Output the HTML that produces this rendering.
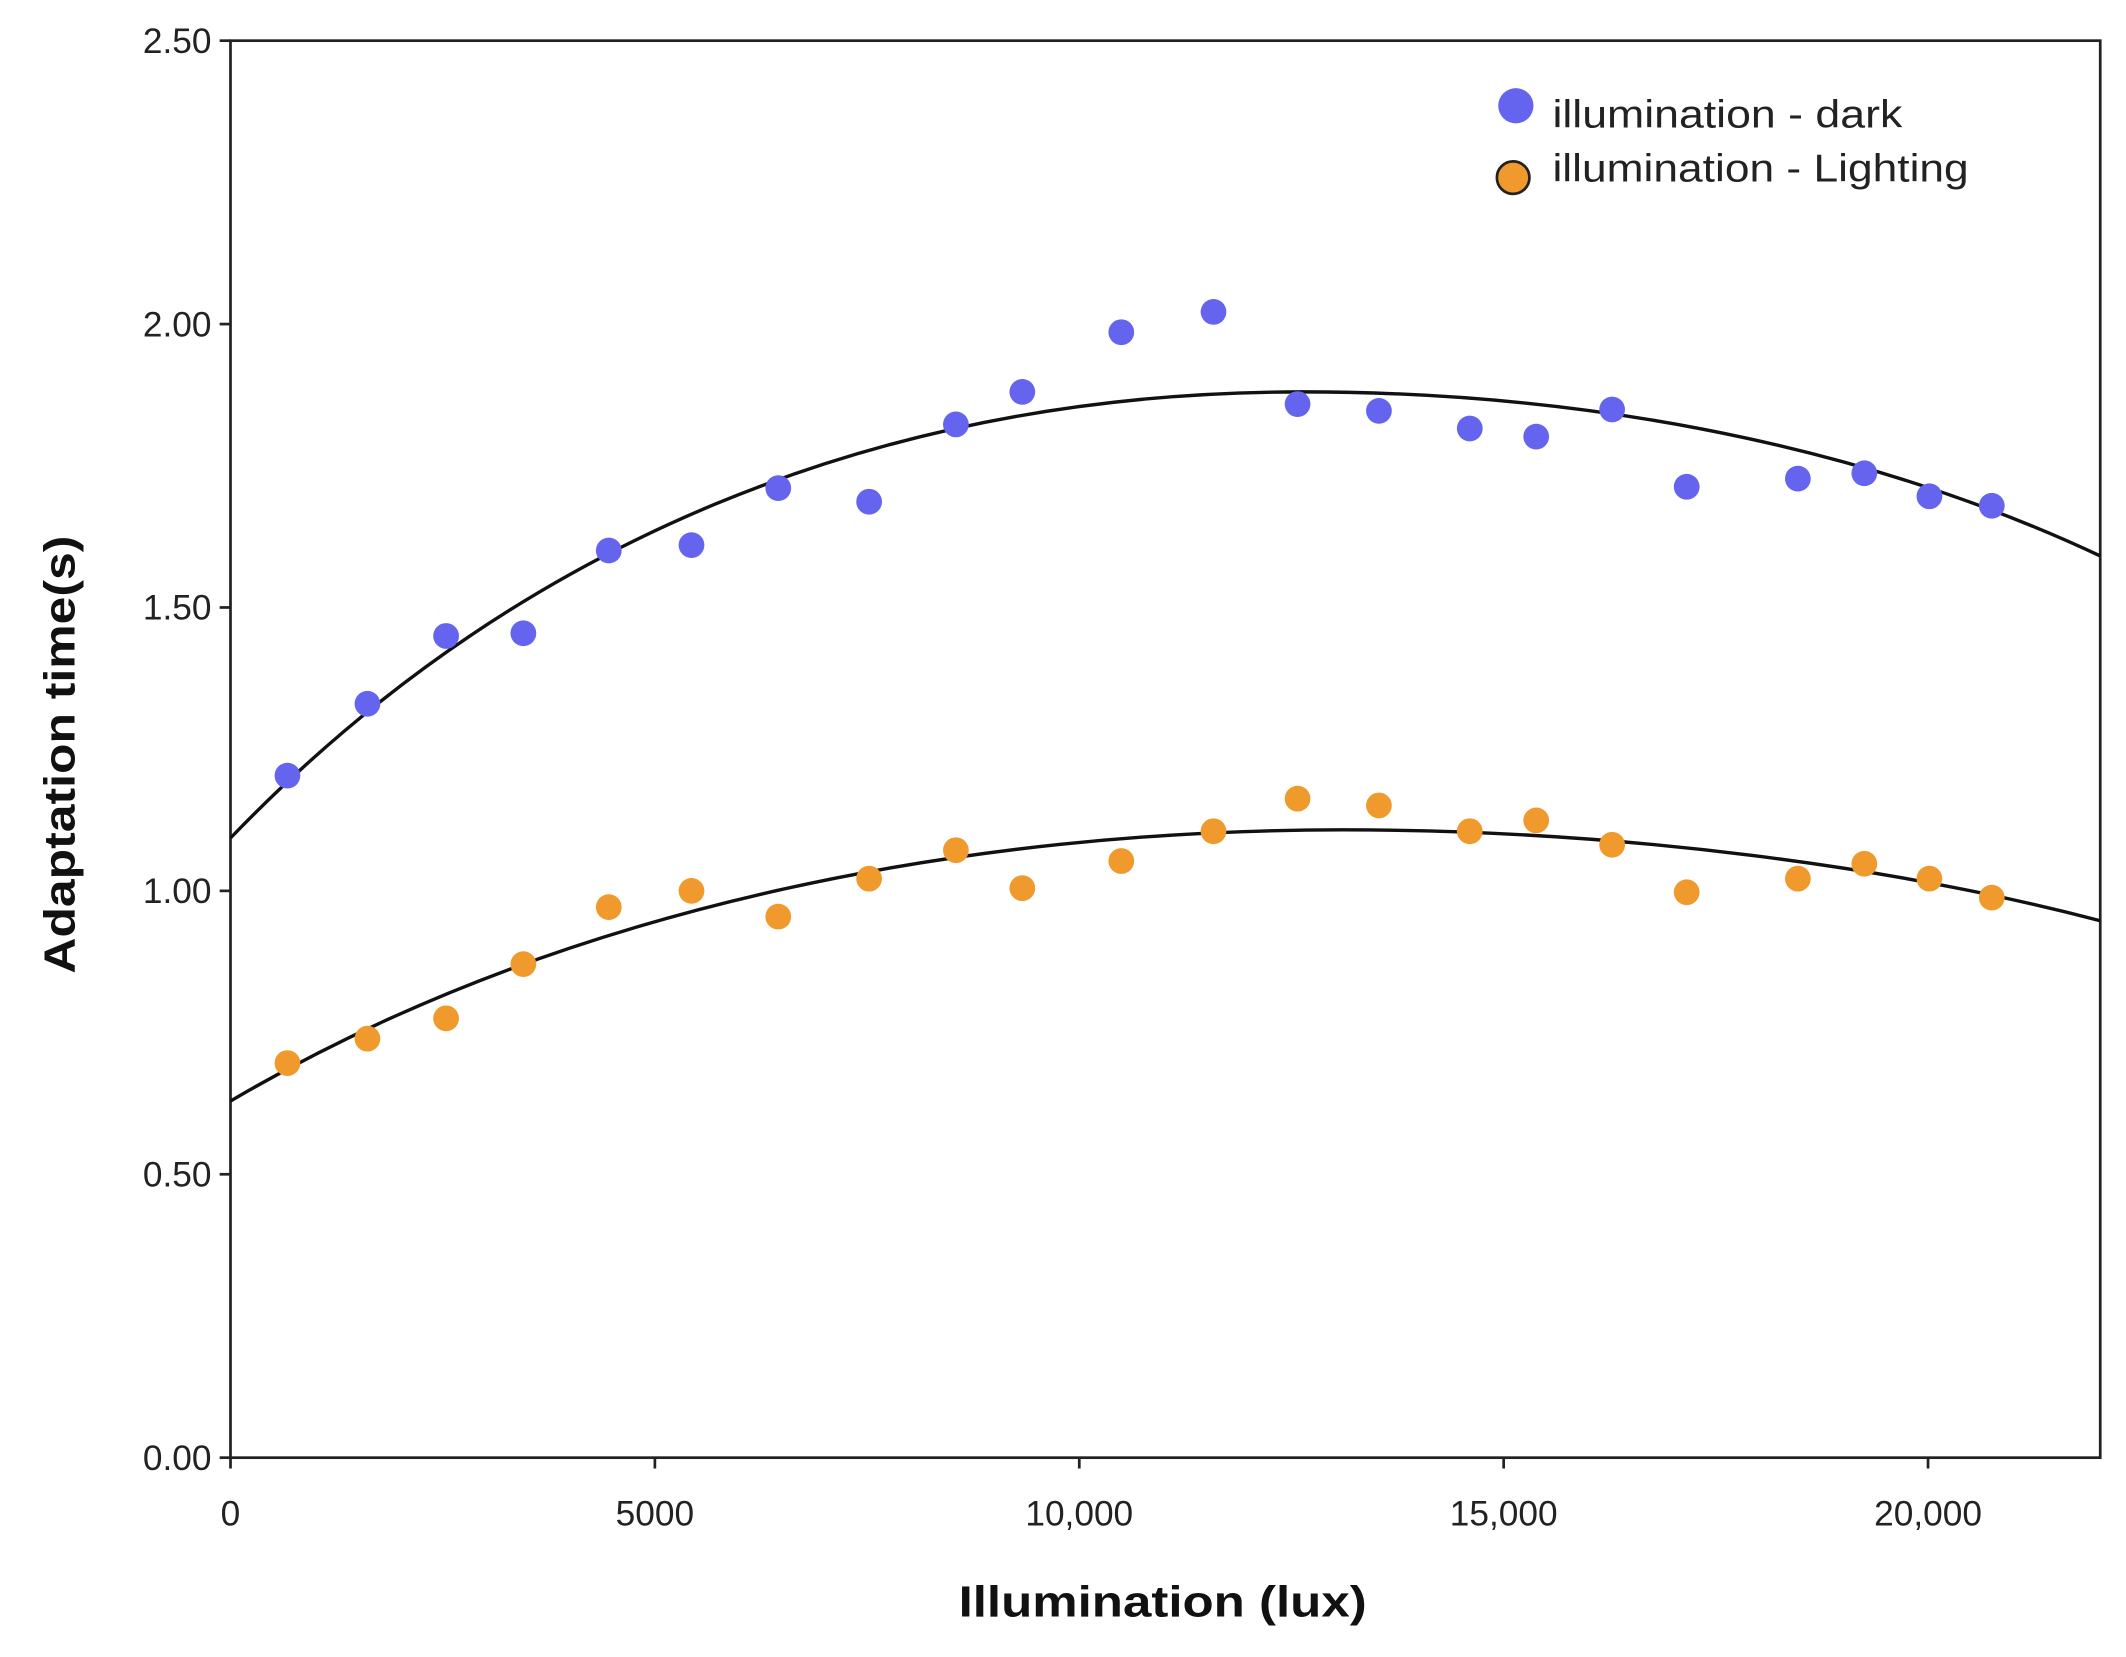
<!DOCTYPE html>
<html><head><meta charset="utf-8"><style>html,body{margin:0;padding:0;background:#fff}svg{display:block}</style></head>
<body>
<svg width="2126" height="1657" viewBox="0 0 1568 1222" preserveAspectRatio="none" xmlns="http://www.w3.org/2000/svg" font-family="Liberation Sans, sans-serif">
<rect width="1568" height="1222" fill="#fff"/>
<rect x="170" y="30" width="1379" height="1045" fill="none" stroke="#222" stroke-width="2"/>
<g stroke="#222" stroke-width="2">
<line x1="162" y1="30" x2="170" y2="30"/><line x1="162" y1="239" x2="170" y2="239"/><line x1="162" y1="448" x2="170" y2="448"/><line x1="162" y1="657" x2="170" y2="657"/><line x1="162" y1="866" x2="170" y2="866"/><line x1="162" y1="1075" x2="170" y2="1075"/>
<line x1="170" y1="1075" x2="170" y2="1083"/><line x1="483" y1="1075" x2="483" y2="1083"/><line x1="796" y1="1075" x2="796" y2="1083"/><line x1="1109" y1="1075" x2="1109" y2="1083"/><line x1="1422" y1="1075" x2="1422" y2="1083"/>
</g>
<g font-size="26" fill="#222" text-anchor="end">
<text x="156" y="39">2.50</text><text x="156" y="248">2.00</text><text x="156" y="457">1.50</text><text x="156" y="666">1.00</text><text x="156" y="875">0.50</text><text x="156" y="1084">0.00</text>
</g>
<g font-size="26" fill="#222" text-anchor="middle">
<text x="170" y="1125">0</text><text x="483" y="1125">5000</text><text x="796" y="1125">10,000</text><text x="1109" y="1125">15,000</text><text x="1422" y="1125">20,000</text>
</g>
<text x="707" y="1192" font-size="32" font-weight="bold" fill="#111" textLength="301" lengthAdjust="spacingAndGlyphs">Illumination (lux)</text>
<text transform="translate(55,718) rotate(-90)" font-size="32" font-weight="bold" fill="#111" textLength="323" lengthAdjust="spacingAndGlyphs">Adaptation time(s)</text>
<path d="M170,618 C380,400 650,289 960,289 C1200,289 1400,340 1549,410" fill="none" stroke="#111" stroke-width="2.5"/>
<path d="M170,812 C420,665 720,612 990,612 C1200,612 1400,640 1549,679" fill="none" stroke="#111" stroke-width="2.5"/>
<g fill="#6464ee">
<circle cx="212" cy="572" r="9.5"/><circle cx="271" cy="519" r="9.5"/><circle cx="329" cy="469" r="9.5"/><circle cx="386" cy="467" r="9.5"/><circle cx="449" cy="406" r="9.5"/><circle cx="510" cy="402" r="9.5"/><circle cx="574" cy="360" r="9.5"/><circle cx="641" cy="370" r="9.5"/><circle cx="705" cy="313" r="9.5"/><circle cx="754" cy="289" r="9.5"/><circle cx="827" cy="245" r="9.5"/><circle cx="895" cy="230" r="9.5"/><circle cx="957" cy="298" r="9.5"/><circle cx="1017" cy="303" r="9.5"/><circle cx="1084" cy="316" r="9.5"/><circle cx="1133" cy="322" r="9.5"/><circle cx="1189" cy="302" r="9.5"/><circle cx="1244" cy="359" r="9.5"/><circle cx="1326" cy="353" r="9.5"/><circle cx="1375" cy="349" r="9.5"/><circle cx="1423" cy="366" r="9.5"/><circle cx="1469" cy="373" r="9.5"/>
<circle cx="1118" cy="78" r="13"/>
</g>
<g fill="#f09a2e">
<circle cx="212" cy="784" r="9.5"/><circle cx="271" cy="766" r="9.5"/><circle cx="329" cy="751" r="9.5"/><circle cx="386" cy="711" r="9.5"/><circle cx="449" cy="669" r="9.5"/><circle cx="510" cy="657" r="9.5"/><circle cx="574" cy="676" r="9.5"/><circle cx="641" cy="648" r="9.5"/><circle cx="705" cy="627" r="9.5"/><circle cx="754" cy="655" r="9.5"/><circle cx="827" cy="635" r="9.5"/><circle cx="895" cy="613" r="9.5"/><circle cx="957" cy="589" r="9.5"/><circle cx="1017" cy="594" r="9.5"/><circle cx="1084" cy="613" r="9.5"/><circle cx="1133" cy="605" r="9.5"/><circle cx="1189" cy="623" r="9.5"/><circle cx="1244" cy="658" r="9.5"/><circle cx="1326" cy="648" r="9.5"/><circle cx="1375" cy="637" r="9.5"/><circle cx="1423" cy="648" r="9.5"/><circle cx="1469" cy="662" r="9.5"/>
<circle cx="1116" cy="131" r="12" stroke="#222" stroke-width="2"/>
</g>
<g font-size="29" fill="#222">
<text x="1145" y="94" textLength="258" lengthAdjust="spacingAndGlyphs">illumination - dark</text>
<text x="1145" y="134" textLength="307" lengthAdjust="spacingAndGlyphs">illumination - Lighting</text>
</g>
</svg>
</body></html>
